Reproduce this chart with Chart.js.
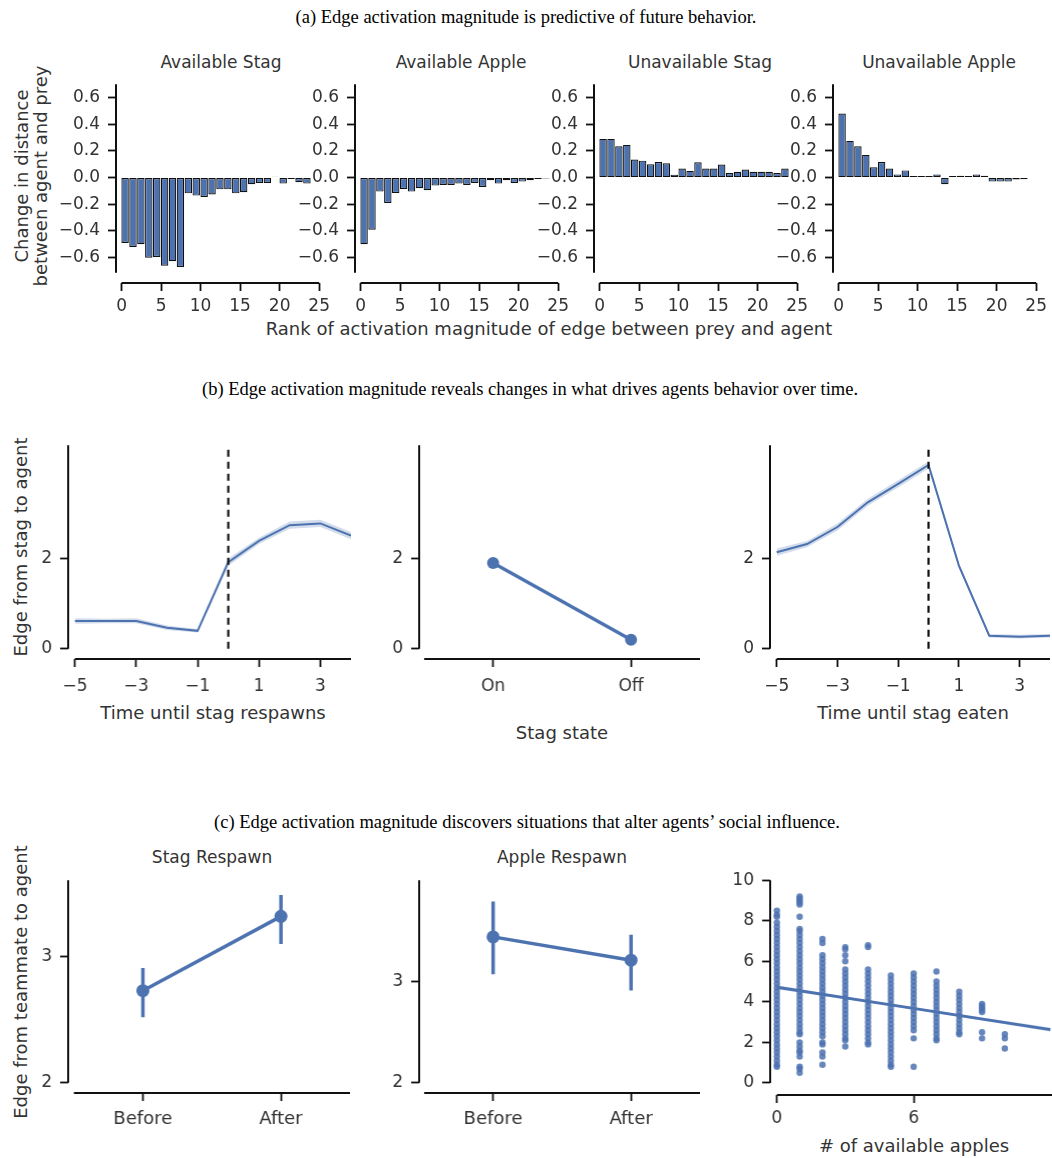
<!DOCTYPE html>
<html>
<head>
<meta charset="utf-8">
<script src="https://cdn.jsdelivr.net/npm/chart.js@4.4.1/dist/chart.umd.min.js"></script>
<style>
body { margin: 0; background: #fff; }
#fig { position: relative; width: 1052px; height: 1158px; overflow: hidden; font-family: "DejaVu Sans", sans-serif; color: #333; }
#fig canvas { position: absolute; }
.t { position: absolute; white-space: nowrap; transform: translate(-50%, -50%); }
.serif { font-family: "Liberation Serif", "Times New Roman", serif; color: #000; font-size: 18.5px; }
.lab { font-size: 18px; }
.sub { font-size: 17px; }
.rot { transform: translate(-50%, -50%) rotate(-90deg); text-align: center; line-height: 19px; }
</style>
</head>
<body>
<div id="fig">
  <div class="t serif" style="left:526px;top:17px">(a) Edge activation magnitude is predictive of future behavior.</div>
  <div class="t sub" style="left:221px;top:62px">Available Stag</div>
  <div class="t sub" style="left:461px;top:62px">Available Apple</div>
  <div class="t sub" style="left:700px;top:62px">Unavailable Stag</div>
  <div class="t sub" style="left:939px;top:62px">Unavailable Apple</div>
  <div class="t lab rot" style="left:31px;top:176px">Change in distance<br>between agent and prey</div>
  <div class="t lab" style="left:549px;top:328px">Rank of activation magnitude of edge between prey and agent</div>

  <div class="t serif" style="left:530px;top:389px">(b) Edge activation magnitude reveals changes in what drives agents behavior over time.</div>
  <div class="t lab rot" style="left:20px;top:547px">Edge from stag to agent</div>
  <div class="t lab" style="left:213px;top:712px">Time until stag respawns</div>
  <div class="t lab" style="left:562px;top:732px">Stag state</div>
  <div class="t lab" style="left:913px;top:712px">Time until stag eaten</div>

  <div class="t serif" style="left:527px;top:822px">(c) Edge activation magnitude discovers situations that alter agents’ social influence.</div>
  <div class="t sub" style="left:212px;top:857px">Stag Respawn</div>
  <div class="t sub" style="left:562px;top:857px">Apple Respawn</div>
  <div class="t lab rot" style="left:20px;top:982px">Edge from teammate to agent</div>
  <div class="t lab" style="left:914px;top:1145px"># of available apples</div>
</div>
<script>
// ---- data ----
const rank = [0,1,2,3,4,5,6,7,8,9,10,11,12,13,14,15,16,17,18,19,20,21,22,23];
const availStag = [-0.49,-0.52,-0.50,-0.60,-0.595,-0.66,-0.627,-0.67,-0.118,-0.135,-0.145,-0.127,
                   -0.088,-0.088,-0.118,-0.11,-0.05,-0.04,-0.04,0.007,-0.045,-0.01,-0.035,-0.045];
const availApple = [-0.50,-0.39,-0.105,-0.19,-0.115,-0.085,-0.105,-0.08,-0.095,-0.06,-0.055,-0.055,
                    -0.045,-0.055,-0.04,-0.07,-0.02,-0.045,-0.02,-0.04,-0.03,-0.02,-0.01,-0.006];
const unavailStag = [0.29,0.29,0.235,0.245,0.135,0.127,0.10,0.117,0.107,0.022,0.068,0.05,
                     0.115,0.068,0.068,0.098,0.034,0.044,0.06,0.044,0.044,0.044,0.034,0.068];
const unavailApple = [0.48,0.275,0.235,0.17,0.078,0.117,0.068,0.024,0.054,0.012,0.012,0.012,
                      0.024,-0.05,0.012,0.014,0.012,0.024,0.014,-0.03,-0.03,-0.03,-0.015,-0.012];
const rankTicks = [0,5,10,15,20,25];
const changeTicks = [-0.6,-0.4,-0.2,0,0.2,0.4,0.6];

const timeSteps = [-5,-4,-3,-2,-1,0,1,2,3,4];
const timeTicks = [-5,-3,-1,1,3];
const respawnMean = [0.62,0.62,0.62,0.47,0.40,1.93,2.40,2.75,2.79,2.52];
const respawnLo   = [0.56,0.57,0.57,0.42,0.36,1.85,2.33,2.67,2.71,2.44];
const respawnHi   = [0.68,0.67,0.68,0.52,0.44,2.01,2.47,2.83,2.87,2.60];
const eatenMean = [2.15,2.33,2.71,3.26,3.67,4.09,1.85,0.29,0.27,0.29];
const eatenLo   = [2.07,2.26,2.63,3.18,3.59,4.01,1.79,0.25,0.23,0.25];
const eatenHi   = [2.23,2.40,2.79,3.34,3.75,4.17,1.91,0.33,0.31,0.33];
const eventX = [0, 0];
const eventY = [0, 4.47];
const stagStates = ['On', 'Off'];
const stagStateMean = [1.91, 0.20];

const phases = ['Before', 'After'];
const stagRespawnMean = [2.73, 3.32];
const stagRespawnLo   = [2.52, 3.10];
const stagRespawnHi   = [2.91, 3.49];
const appleRespawnMean = [3.44, 3.21];
const appleRespawnLo   = [3.07, 2.91];
const appleRespawnHi   = [3.79, 3.46];

const apples = [0,1,2,3,4,5,6,7,8,9,10];
const teamEdge = [
  [8.5,8.3,8.2,7.9,7.7,7.5,7.3,7.1,6.9,6.7,6.5,6.3,6.1,5.9,5.7,5.5,5.3,5.1,4.9,4.7,4.5,4.3,4.1,3.9,3.7,3.5,3.3,3.1,2.9,2.7,2.5,2.3,2.1,1.9,1.7,1.5,1.3,1.1,0.9,0.8],
  [9.2,9.1,9.0,8.9,8.8,8.2,7.6,7.5,7.3,7.1,6.9,6.7,6.5,6.3,6.1,5.9,5.7,5.5,5.3,5.1,4.9,4.7,4.5,4.3,4.1,3.9,3.7,3.5,3.3,3.1,2.9,2.7,2.5,2.4,2.0,1.8,1.6,1.5,1.3,0.8,0.7,0.5],
  [7.1,6.9,6.3,6.1,5.9,5.7,5.5,5.3,5.1,4.9,4.7,4.5,4.3,4.1,3.9,3.7,3.5,3.3,3.1,2.9,2.7,2.5,2.3,2.0,1.9,1.5,1.3,0.9],
  [6.7,6.6,6.3,6.0,5.6,5.4,5.2,5.0,4.8,4.6,4.4,4.2,4.0,3.8,3.6,3.4,3.2,3.0,2.8,2.6,2.4,2.2,2.1,1.8],
  [6.8,6.7,5.6,5.4,5.2,5.0,4.8,4.6,4.4,4.2,4.0,3.8,3.6,3.4,3.2,3.0,2.8,2.6,2.4,2.2,2.0,1.9],
  [5.3,5.1,4.9,4.7,4.5,4.3,4.1,3.9,3.7,3.5,3.3,3.1,2.9,2.7,2.5,2.3,2.1,1.9,1.7,1.5,1.3,1.1,0.9,0.8],
  [5.4,5.2,5.0,4.8,4.6,4.4,4.2,4.0,3.8,3.6,3.4,3.2,3.0,2.8,2.6,2.2,0.8],
  [5.5,5.0,4.8,4.6,4.4,4.2,4.0,3.8,3.6,3.4,3.2,3.0,2.8,2.6,2.4,2.2,2.1],
  [4.5,4.3,4.1,3.9,3.7,3.5,3.3,3.1,2.9,2.7,2.5,2.4],
  [3.9,3.8,3.7,3.6,3.5,2.5,2.2],
  [2.4,2.2,1.7]
];
const fitX  = [0, 5, 12];
const fitY  = [4.72, 3.85, 2.63];
const fitLo = [4.62, 3.81, 2.52];
const fitHi = [4.82, 3.89, 2.74];

// ---- drawing ----
const BLUE = '#4c72b0';
const BAND = 'rgba(76,114,176,0.25)';
const fig = document.getElementById('fig');
const YW = 62, TP = 14, RP = 14;
Chart.defaults.font.family = '"DejaVu Sans", sans-serif';
Chart.defaults.elements.line.tension = 0;

// spines drawn seaborn-style (trimmed, offset from each other)
const spinePlugin = {
  id: 'spines',
  afterDraw(chart, args, o) {
    const {ctx, chartArea: a, scales: {x, y}} = chart;
    ctx.save();
    ctx.strokeStyle = '#111';
    ctx.lineWidth = 2;
    ctx.beginPath();
    ctx.moveTo(a.left, y.getPixelForValue(o.y[1]));
    ctx.lineTo(a.left, y.getPixelForValue(o.y[0]));
    ctx.moveTo(x.getPixelForValue(o.x[0]), a.bottom);
    ctx.lineTo(x.getPixelForValue(o.x[1]), a.bottom);
    ctx.stroke();
    ctx.restore();
  }
};

const num = d => v => v.toFixed(d).replace('-', '\u2212');
const lbl = names => v => names[v];
const pts = (xs, ys) => xs.map((x, i) => ({x: x, y: ys[i]}));

function axis(range, ticks, fmt, pad, fit, size) {
  return {
    type: 'linear', min: range[0], max: range[1], offset: false,
    grid: {display: true, drawOnChartArea: false, drawTicks: true, tickLength: 8,
           tickWidth: 1.8, tickColor: '#111', offset: false},
    border: {display: false},
    ticks: {padding: pad, color: '#333', font: {size: size || 17}, autoSkip: false, maxRotation: 0, callback: fmt},
    afterBuildTicks: s => { s.ticks = ticks.map(v => ({value: v})); },
    afterFit: fit
  };
}

function panel(p) {
  const [l, t, r, b] = p.area;
  const w = YW + (r - l) + RP, h = TP + (b - t) + p.xh;
  const cv = document.createElement('canvas');
  cv.width = w; cv.height = h;
  cv.style.cssText = `left:${l - YW}px;top:${t - TP}px;width:${w}px;height:${h}px`;
  fig.appendChild(cv);
  new Chart(cv, {
    type: p.type || 'line',
    data: {datasets: p.datasets},
    options: {
      responsive: false, animation: false, events: [],
      layout: {padding: {top: TP, right: RP, left: 0, bottom: 0}},
      plugins: {legend: {display: false}, tooltip: {enabled: false},
                spines: {x: p.spineX, y: p.spineY}},
      scales: {
        x: axis(p.xr, p.xt, p.xf, p.xpad, s => { s.height = p.xh; }, p.xsize),
        y: axis(p.yr, p.yt, p.yf, 8, s => { s.width = YW; })
      }
    },
    plugins: [spinePlugin]
  });
}

function bandSets(xs, lo, hi) {
  return [
    {data: pts(xs, lo), borderColor: 'transparent', borderWidth: 0, pointRadius: 0, fill: false},
    {data: pts(xs, hi), borderColor: 'transparent', borderWidth: 0, pointRadius: 0, fill: '-1', backgroundColor: BAND}
  ];
}

// (a) bar panels
const barLefts = [116, 355, 594, 833];
[availStag, availApple, unavailStag, unavailApple].forEach((vals, k) => {
  panel({
    type: 'bar',
    area: [barLefts[k], 80, barLefts[k] + 205, 283], xh: 44,
    xr: [-0.7, 25], xt: rankTicks, xf: num(0), xpad: 5,
    yr: [-0.79, 0.70], yt: changeTicks, yf: num(1),
    spineX: [0, 25], spineY: [-0.713, 0.70],
    datasets: [{
      data: rank.map((r, i) => ({x: r + 0.45, y: vals[i]})),
      backgroundColor: BLUE, borderColor: '#111', borderWidth: 1.2, borderSkipped: false,
      barPercentage: 0.94, categoryPercentage: 1
    }]
  });
});

// (b) time-course panels
panel({
  area: [68.3, 440.7, 351, 658.7], xh: 44,
  xr: [-5.22, 4], xt: timeTicks, xf: num(0), xpad: 9,
  yr: [-0.227, 4.53], yt: [0, 2], yf: num(0),
  spineX: [-5, 4], spineY: [0, 4.53],
  datasets: [
    {data: pts(eventX, eventY), borderColor: '#111', borderWidth: 2.2, borderDash: [7, 5], pointRadius: 0},
    {data: pts(timeSteps, respawnMean), borderColor: BLUE, borderWidth: 2, pointRadius: 0},
    ...bandSets(timeSteps, respawnLo, respawnHi)
  ]
});
panel({
  area: [419.3, 440.7, 700, 658.7], xh: 44,
  xr: [-0.536, 1.5], xt: [0, 1], xf: lbl(stagStates), xpad: 9,
  yr: [-0.227, 4.53], yt: [0, 2], yf: num(0),
  spineX: [-0.5, 1.5], spineY: [0, 4.53],
  datasets: [
    {data: pts([0, 1], stagStateMean), borderColor: BLUE, borderWidth: 3.3, pointRadius: 6,
     pointBackgroundColor: BLUE, pointBorderWidth: 0}
  ]
});
panel({
  area: [770, 440.7, 1050, 658.7], xh: 44,
  xr: [-5.22, 4], xt: timeTicks, xf: num(0), xpad: 9,
  yr: [-0.227, 4.53], yt: [0, 2], yf: num(0),
  spineX: [-5, 4], spineY: [0, 4.53],
  datasets: [
    {data: pts(eventX, eventY), borderColor: '#111', borderWidth: 2.2, borderDash: [7, 5], pointRadius: 0},
    {data: pts(timeSteps, eatenMean), borderColor: BLUE, borderWidth: 2, pointRadius: 0},
    ...bandSets(timeSteps, eatenLo, eatenHi)
  ]
});

// (c) social influence panels
function pointPlot(mean, lo, hi) {
  const sets = [{data: pts([0, 1], mean), borderColor: BLUE, borderWidth: 3.5, pointRadius: 6.5,
                 pointBackgroundColor: BLUE, pointBorderWidth: 0}];
  mean.forEach((m, i) => sets.push({data: pts([i, i], [lo[i], hi[i]]), borderColor: BLUE,
                                     borderWidth: 3.5, pointRadius: 0}));
  return sets;
}
panel({
  area: [68.3, 876, 350, 1093.3], xh: 44, xsize: 18,
  xr: [-0.541, 1.5], xt: [0, 1], xf: lbl(phases), xpad: 8,
  yr: [1.918, 3.607], yt: [2, 3], yf: num(0),
  spineX: [-0.5, 1.5], spineY: [2, 3.607],
  datasets: pointPlot(stagRespawnMean, stagRespawnLo, stagRespawnHi)
});
panel({
  area: [419.3, 876, 700, 1093.3], xh: 44, xsize: 18,
  xr: [-0.536, 1.5], xt: [0, 1], xf: lbl(phases), xpad: 8,
  yr: [1.898, 4.0], yt: [2, 3], yf: num(0),
  spineX: [-0.5, 1.5], spineY: [2, 4.0],
  datasets: pointPlot(appleRespawnMean, appleRespawnLo, appleRespawnHi)
});
panel({
  area: [770, 876, 1051.5, 1095], xh: 40,
  xr: [-0.294, 12.07], xt: [0, 6], xf: num(0), xpad: 5,
  yr: [-0.595, 10], yt: [0, 2, 4, 6, 8, 10], yf: num(0),
  spineX: [0, 12.07], spineY: [0, 10],
  datasets: [
    {data: pts(fitX, fitY), borderColor: BLUE, borderWidth: 3, pointRadius: 0},
    ...bandSets(fitX, fitLo, fitHi),
    {data: apples.flatMap((a, i) => teamEdge[i].map(v => ({x: a, y: v}))), showLine: false,
     pointRadius: 3.2, pointBackgroundColor: 'rgba(76,114,176,0.85)', pointBorderWidth: 0}
  ]
});
</script>
</body>
</html>
